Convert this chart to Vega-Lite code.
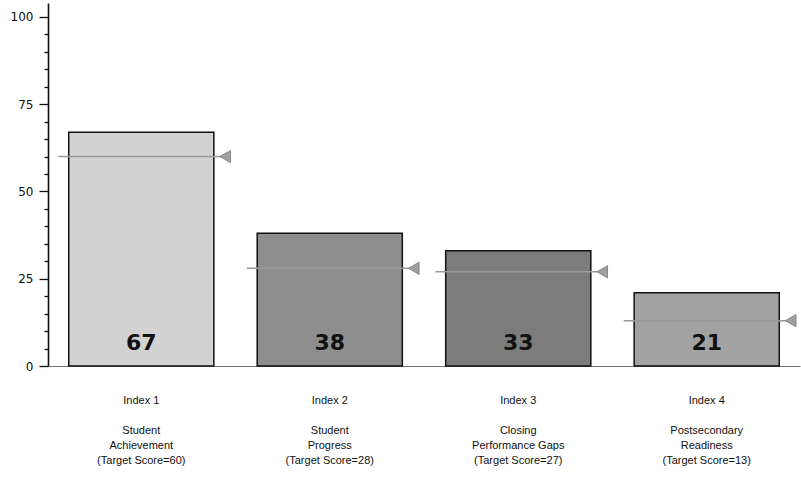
{
  "$schema": "https://vega.github.io/schema/vega-lite/v6.json",
  "autosize": "none",
  "padding": {"left": 48, "top": 3, "right": 1, "bottom": 111},
  "width": 752,
  "height": 363,
  "background": "white",
  "config": {
    "view": {"stroke": null},
    "font": "Liberation Sans",
    "axisY": {
      "title": null,
      "labelOverlap": false,
      "labelBound": false,
      "tickColor": "#111",
      "tickWidth": 1.3,
      "domainColor": "#111",
      "domainWidth": 1.6,
      "labelFontSize": 12,
      "labelFont": "DejaVu Sans",
      "labelColor": "#111",
      "labelPadding": 6,
      "grid": false
    }
  },
  "data": {
    "values": [
      {"cat": "Index 1|\u200b|Student|Achievement|(Target Score=60)", "score": 67, "target": 60, "shade": "s1"},
      {"cat": "Index 2|\u200b|Student|Progress|(Target Score=28)", "score": 38, "target": 28, "shade": "s2"},
      {"cat": "Index 3|\u200b|Closing|Performance Gaps|(Target Score=27)", "score": 33, "target": 27, "shade": "s3"},
      {"cat": "Index 4|\u200b|Postsecondary|Readiness|(Target Score=13)", "score": 21, "target": 13, "shade": "s4"}
    ]
  },
  "encoding": {
    "x": {
      "field": "cat",
      "type": "nominal",
      "sort": null,
      "scale": {"paddingInner": 0.23, "paddingOuter": 0.11},
      "axis": {
        "title": null,
        "labelAngle": 0,
        "labelExpr": "split(datum.label, '|')",
        "labelLineHeight": 15,
        "labelPadding": 28,
        "labelBaseline": "top",
        "labelFontSize": 11,
        "labelColor": "#111",
        "labelFont": "Liberation Sans",
        "ticks": false,
        "domainColor": "#777",
        "domainWidth": 1.2
      }
    }
  },
  "layer": [
    {
      "mark": {"type": "bar", "stroke": "#111", "strokeWidth": 1.5},
      "encoding": {
        "y": {
          "field": "score",
          "type": "quantitative",
          "scale": {"domain": [0, 104], "nice": false},
          "title": null,
          "axis": {
            "values": [0,5,10,15,20,25,30,35,40,45,50,55,60,65,70,75,80,85,90,95,100],
            "labelExpr": "datum.value % 25 == 0 ? datum.label : ''",
            "tickSize": {"condition": {"test": "datum.value % 25 == 0", "value": 9}, "value": 4}
          }
        },
        "color": {
          "field": "shade",
          "type": "nominal",
          "scale": {"domain": ["s1", "s2", "s3", "s4"], "range": ["#d2d2d2", "#8e8e8e", "#7c7c7c", "#a2a2a2"]},
          "legend": null
        }
      }
    },
    {
      "mark": {"type": "tick", "size": 166, "thickness": 1.5, "color": "#9a9a9a", "opacity": 1},
      "encoding": {
        "y": {"field": "target", "type": "quantitative", "title": null,
          "axis": {
            "values": [0,5,10,15,20,25,30,35,40,45,50,55,60,65,70,75,80,85,90,95,100],
            "labelExpr": "datum.value % 25 == 0 ? datum.label : ''",
            "tickSize": {"condition": {"test": "datum.value % 25 == 0", "value": 9}, "value": 4}
          }}
      }
    },
    {
      "mark": {"type": "point", "shape": "triangle-left", "size": 150, "filled": true, "color": "#a0a0a0", "stroke": "#777", "strokeWidth": 0.8, "xOffset": 84, "opacity": 1},
      "encoding": {
        "y": {"field": "target", "type": "quantitative", "title": null,
          "axis": {
            "values": [0,5,10,15,20,25,30,35,40,45,50,55,60,65,70,75,80,85,90,95,100],
            "labelExpr": "datum.value % 25 == 0 ? datum.label : ''",
            "tickSize": {"condition": {"test": "datum.value % 25 == 0", "value": 9}, "value": 4}
          }}
      }
    },
    {
      "mark": {"type": "text", "baseline": "bottom", "dy": -11, "fontSize": 22, "fontWeight": "bold", "font": "DejaVu Sans", "color": "#111"},
      "encoding": {
        "y": {"datum": 0, "type": "quantitative", "title": null,
          "axis": {
            "values": [0,5,10,15,20,25,30,35,40,45,50,55,60,65,70,75,80,85,90,95,100],
            "labelExpr": "datum.value % 25 == 0 ? datum.label : ''",
            "tickSize": {"condition": {"test": "datum.value % 25 == 0", "value": 9}, "value": 4}
          }},
        "text": {"field": "score", "type": "quantitative"}
      }
    }
  ]
}
